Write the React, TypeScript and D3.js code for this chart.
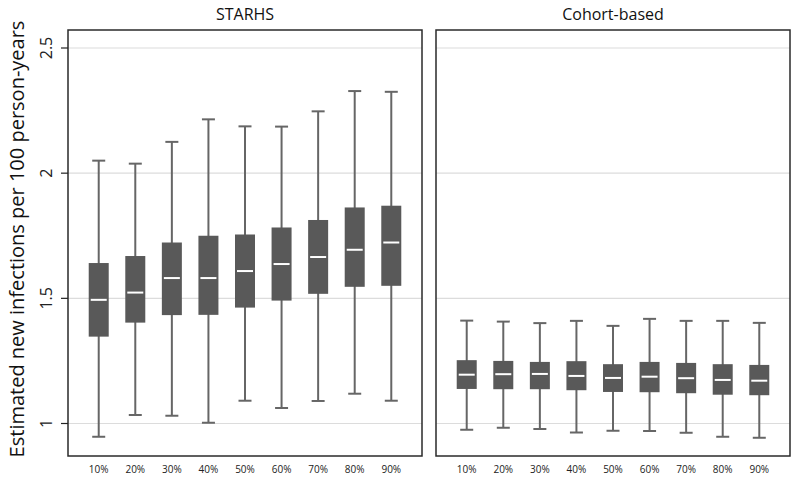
import React from "react";
import * as d3 from "d3";

const categories = ["10%", "20%", "30%", "40%", "50%", "60%", "70%", "80%", "90%"];
const panels = ["STARHS", "Cohort-based"];
const yTicks = [1, 1.5, 2, 2.5];

// STARHS: [lower whisker, q1, median, q3, upper whisker]
const starhsLow = [0.947, 1.034, 1.031, 1.003, 1.091, 1.062, 1.09, 1.119, 1.091];
const starhsQ1 = [1.347, 1.403, 1.433, 1.434, 1.463, 1.491, 1.518, 1.546, 1.55];
const starhsMed = [1.494, 1.523, 1.581, 1.581, 1.609, 1.637, 1.665, 1.694, 1.723];
const starhsQ3 = [1.641, 1.669, 1.723, 1.75, 1.755, 1.783, 1.813, 1.863, 1.87];
const starhsHigh = [2.05, 2.038, 2.125, 2.215, 2.187, 2.186, 2.247, 2.328, 2.325];

const cohortLow = [0.975, 0.983, 0.978, 0.964, 0.971, 0.97, 0.963, 0.947, 0.943];
const cohortQ1 = [1.138, 1.137, 1.137, 1.133, 1.126, 1.125, 1.121, 1.115, 1.113];
const cohortMed = [1.195, 1.197, 1.198, 1.19, 1.182, 1.187, 1.181, 1.174, 1.171];
const cohortQ3 = [1.253, 1.25, 1.246, 1.249, 1.237, 1.246, 1.242, 1.237, 1.234];
const cohortHigh = [1.411, 1.407, 1.401, 1.41, 1.39, 1.418, 1.41, 1.41, 1.402];

const W = 800;
const H = 481;
const panelTop = 30;
const panelBottom = 456;
const panelX = [68, 436];
const panelW = 354;

const font = "'Open Sans', 'DejaVu Sans', sans-serif";

export default function App() {
  const y = d3.scaleLinear().domain([1, 2.5]).range([423.5, 48]);
  const data = [
    { low: starhsLow, q1: starhsQ1, med: starhsMed, q3: starhsQ3, high: starhsHigh },
    { low: cohortLow, q1: cohortQ1, med: cohortMed, q3: cohortQ3, high: cohortHigh },
  ];
  const boxW = 20;
  const capW = 13;
  return (
    <svg width={W} height={H} style={{ position: "absolute", left: 0, top: 0, background: "#fff" }}>
      <rect x={0} y={0} width={W} height={H} fill="#fff" />
      {panels.map((title, p) => {
        const x = d3
          .scalePoint<string>()
          .domain(categories)
          .range([panelX[p], panelX[p] + panelW])
          .padding(0.84);
        const d = data[p];
        return (
          <g key={title}>
            {yTicks.map((t) => (
              <line
                key={t}
                x1={panelX[p]}
                x2={panelX[p] + panelW}
                y1={y(t)}
                y2={y(t)}
                stroke="#dcdcdc"
                strokeWidth={1.2}
              />
            ))}
            {categories.map((c, i) => {
              const cx = x(c)!;
              return (
                <g key={c}>
                  <line x1={cx} x2={cx} y1={y(d.high[i])} y2={y(d.low[i])} stroke="#666" strokeWidth={2} />
                  <line x1={cx - capW / 2} x2={cx + capW / 2} y1={y(d.high[i])} y2={y(d.high[i])} stroke="#666" strokeWidth={2} />
                  <line x1={cx - capW / 2} x2={cx + capW / 2} y1={y(d.low[i])} y2={y(d.low[i])} stroke="#666" strokeWidth={2} />
                  <rect
                    x={cx - boxW / 2}
                    y={y(d.q3[i])}
                    width={boxW}
                    height={y(d.q1[i]) - y(d.q3[i])}
                    fill="#595959"
                  />
                  <line
                    x1={cx - boxW / 2 + 2}
                    x2={cx + boxW / 2 - 2}
                    y1={y(d.med[i])}
                    y2={y(d.med[i])}
                    stroke="#fff"
                    strokeWidth={2}
                  />
                  <text
                    x={cx}
                    y={472.5}
                    textAnchor="middle"
                    fontSize={10}
                    fontFamily={font}
                    fill="#222"
                  >
                    {c}
                  </text>
                </g>
              );
            })}
            <rect
              x={panelX[p]}
              y={panelTop}
              width={panelW}
              height={panelBottom - panelTop}
              fill="none"
              stroke="#2a2a2a"
              strokeWidth={1.5}
            />
            <text
              x={panelX[p] + panelW / 2}
              y={20}
              textAnchor="middle"
              fontSize={16}
              fontFamily={font}
              fill="#111"
            >
              {title}
            </text>
          </g>
        );
      })}
      {yTicks.map((t) => (
        <g key={t}>
          <line x1={61} x2={68} y1={y(t)} y2={y(t)} stroke="#222" strokeWidth={1.2} />
          <text
            transform={`translate(51.5,${y(t)}) rotate(-90)`}
            textAnchor="middle"
            fontSize={16}
            fontFamily={font}
            fill="#222"
          >
            {String(t)}
          </text>
        </g>
      ))}
      <text
        transform={`translate(24,239) rotate(-90)`}
        textAnchor="middle"
        fontSize={20}
        fontFamily={font}
        fill="#111"
      >
        Estimated new infections per 100 person-years
      </text>
    </svg>
  );
}
